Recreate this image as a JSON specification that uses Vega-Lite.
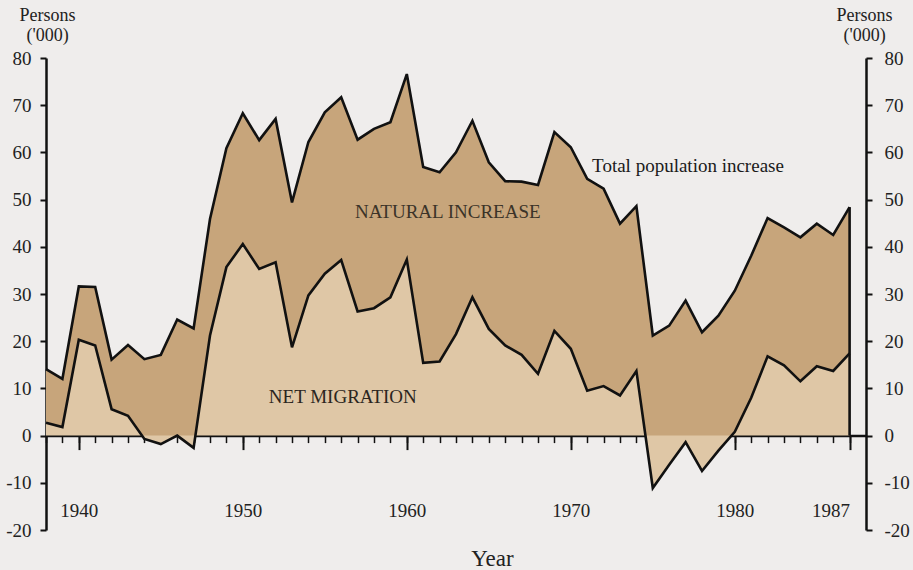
{
  "$schema": "https://vega.github.io/schema/vega-lite/v6.json",
  "width": 820,
  "height": 472,
  "autosize": {"type": "none"},
  "padding": {"left": 46, "top": 58, "right": 47, "bottom": 40},
  "background": "#efedec",
  "config": {
    "view": {"stroke": null},
    "font": "Liberation Serif",
    "axis": {"grid": false, "zindex": 1, "labelFont": "Liberation Serif", "titleFont": "Liberation Serif", "labelColor": "#222222", "titleColor": "#222222", "domainColor": "#111111", "tickColor": "#111111", "titleFontWeight": "normal"}
  },
  "data": {
    "values": [
      {"year": 1938, "total": 14.1, "migration": 2.7},
      {"year": 1939, "total": 12.0, "migration": 1.8},
      {"year": 1940, "total": 31.6, "migration": 20.3},
      {"year": 1941, "total": 31.5, "migration": 19.1},
      {"year": 1942, "total": 16.1, "migration": 5.6},
      {"year": 1943, "total": 19.2, "migration": 4.2},
      {"year": 1944, "total": 16.2, "migration": -0.7},
      {"year": 1945, "total": 17.1, "migration": -1.8},
      {"year": 1946, "total": 24.6, "migration": 0.0},
      {"year": 1947, "total": 22.7, "migration": -2.6},
      {"year": 1948, "total": 45.9, "migration": 21.2},
      {"year": 1949, "total": 60.9, "migration": 35.7},
      {"year": 1950, "total": 68.3, "migration": 40.6},
      {"year": 1951, "total": 62.6, "migration": 35.3},
      {"year": 1952, "total": 67.1, "migration": 36.7},
      {"year": 1953, "total": 49.4, "migration": 18.7},
      {"year": 1954, "total": 62.2, "migration": 29.7},
      {"year": 1955, "total": 68.5, "migration": 34.3},
      {"year": 1956, "total": 71.7, "migration": 37.2},
      {"year": 1957, "total": 62.7, "migration": 26.3},
      {"year": 1958, "total": 65.0, "migration": 27.0},
      {"year": 1959, "total": 66.4, "migration": 29.3},
      {"year": 1960, "total": 76.6, "migration": 37.3},
      {"year": 1961, "total": 56.9, "migration": 15.4},
      {"year": 1962, "total": 55.8, "migration": 15.7},
      {"year": 1963, "total": 60.0, "migration": 21.5},
      {"year": 1964, "total": 66.7, "migration": 29.3},
      {"year": 1965, "total": 57.9, "migration": 22.6},
      {"year": 1966, "total": 53.9, "migration": 19.1},
      {"year": 1967, "total": 53.8, "migration": 17.1},
      {"year": 1968, "total": 53.1, "migration": 13.1},
      {"year": 1969, "total": 64.3, "migration": 22.2},
      {"year": 1970, "total": 61.1, "migration": 18.4},
      {"year": 1971, "total": 54.4, "migration": 9.5},
      {"year": 1972, "total": 52.3, "migration": 10.5},
      {"year": 1973, "total": 44.9, "migration": 8.5},
      {"year": 1974, "total": 48.6, "migration": 13.7},
      {"year": 1975, "total": 21.2, "migration": -11.1},
      {"year": 1976, "total": 23.3, "migration": -6.2},
      {"year": 1977, "total": 28.6, "migration": -1.4},
      {"year": 1978, "total": 21.9, "migration": -7.5},
      {"year": 1979, "total": 25.4, "migration": -3.2},
      {"year": 1980, "total": 30.7, "migration": 0.8},
      {"year": 1981, "total": 38.1, "migration": 8.0},
      {"year": 1982, "total": 46.1, "migration": 16.8},
      {"year": 1983, "total": 44.1, "migration": 14.9},
      {"year": 1984, "total": 42.0, "migration": 11.5},
      {"year": 1985, "total": 44.9, "migration": 14.7},
      {"year": 1986, "total": 42.5, "migration": 13.7},
      {"year": 1987, "total": 48.4, "migration": 17.4}
    ]
  },
  "layer": [
    {
      "mark": {"type": "area", "color": "#c7a57b", "opacity": 1},
      "encoding": {
        "x": {
          "field": "year", "type": "quantitative",
          "scale": {"domain": [1938, 1988], "nice": false, "zero": false},
          "axis": {
            "orient": "bottom", "offset": -94.4, "values": [1938,1939,1940,1941,1942,1943,1944,1945,1946,1947,1948,1949,1950,1951,1952,1953,1954,1955,1956,1957,1958,1959,1960,1961,1962,1963,1964,1965,1966,1967,1968,1969,1970,1971,1972,1973,1974,1975,1976,1977,1978,1979,1980,1981,1982,1983,1984,1985,1986,1987],
            "labels": false, "title": null, "tickSize": 7, "tickWidth": 1.5, "domain": true, "domainWidth": 2.5
          }
        },
        "y": {
          "field": "total", "type": "quantitative",
          "scale": {"domain": [-20, 80], "nice": false, "zero": false},
          "axis": {
            "orient": "left", "values": [-20,-10,0,10,20,30,40,50,60,70,80],
            "labelExpr": "toString(datum.value)",
            "tickSize": 6, "tickWidth": 2, "domainWidth": 2.5, "labelPadding": 9, "labelFontSize": 19,
            "title": ["Persons", "('000)"], "titleAngle": 0, "titleAlign": "center", "titleBaseline": "middle",
            "titleX": 1, "titleY": -43, "titleLineHeight": 20, "titleFontSize": 18
          }
        },
        "y2": {"field": "migration"}
      }
    },
    {
      "mark": {"type": "area", "color": "#dfc7a6", "opacity": 1},
      "encoding": {
        "x": {
          "field": "year", "type": "quantitative",
          "axis": {
            "orient": "bottom", "offset": -94.4, "values": [1940, 1950, 1960, 1970, 1980, 1987],
            "format": "d", "domain": false, "tickSize": 14, "tickWidth": 2, "labelPadding": 52, "labelFontSize": 19,
            "labelAlign": {"condition": {"test": "datum.value == 1987", "value": "right"}, "value": "center"},
            "title": "Year", "titleFontSize": 23, "titleX": 446, "titleY": 130, "titleBaseline": "alphabetic", "titleAlign": "center"
          }
        },
        "y": {
          "field": "migration", "type": "quantitative",
          "axis": {
            "orient": "right", "values": [-20,-10,0,10,20,30,40,50,60,70,80],
            "labelExpr": "toString(datum.value)",
            "tickSize": 6, "tickWidth": 2, "domainWidth": 2.5, "labelPadding": 12, "labelFontSize": 19,
            "title": ["Persons", "('000)"], "titleAngle": 0, "titleAlign": "center", "titleBaseline": "middle",
            "titleX": -2, "titleY": -43, "titleLineHeight": 20, "titleFontSize": 18
          }
        },
        "y2": {"datum": 0}
      }
    },
    {
      "mark": {"type": "line", "color": "#111111", "strokeWidth": 2.6, "strokeJoin": "miter"},
      "encoding": {
        "x": {"field": "year", "type": "quantitative", "axis": null},
        "y": {"field": "total", "type": "quantitative", "axis": null}
      }
    },
    {
      "mark": {"type": "line", "color": "#111111", "strokeWidth": 2.6, "strokeJoin": "miter"},
      "encoding": {
        "x": {"field": "year", "type": "quantitative", "axis": null},
        "y": {"field": "migration", "type": "quantitative", "axis": null}
      }
    },
    {
      "transform": [{"filter": "datum.year == 1987"}],
      "mark": {"type": "rule", "color": "#111111", "strokeWidth": 2.6},
      "encoding": {
        "x": {"field": "year", "type": "quantitative", "axis": null},
        "y": {"field": "total", "type": "quantitative", "axis": null},
        "y2": {"datum": 0}
      }
    },
    {
      "data": {"values": [{"label": "NATURAL INCREASE"}]},
      "mark": {"type": "text", "font": "Liberation Serif", "fontSize": 19, "color": "#3b3328", "align": "center", "baseline": "middle"},
      "encoding": {
        "x": {"datum": 1962.5, "type": "quantitative", "axis": null},
        "y": {"datum": 47.4, "type": "quantitative", "axis": null},
        "text": {"field": "label"}
      }
    },
    {
      "data": {"values": [{"label": "NET MIGRATION"}]},
      "mark": {"type": "text", "font": "Liberation Serif", "fontSize": 19, "color": "#2b2520", "align": "center", "baseline": "middle"},
      "encoding": {
        "x": {"datum": 1956.1, "type": "quantitative", "axis": null},
        "y": {"datum": 8.2, "type": "quantitative", "axis": null},
        "text": {"field": "label"}
      }
    },
    {
      "data": {"values": [{"label": "Total population increase"}]},
      "mark": {"type": "text", "font": "Liberation Serif", "fontSize": 19, "color": "#1a1a1a", "align": "left", "baseline": "middle"},
      "encoding": {
        "x": {"datum": 1971.3, "type": "quantitative", "axis": null},
        "y": {"datum": 57.1, "type": "quantitative", "axis": null},
        "text": {"field": "label"}
      }
    }
  ],
  "resolve": {"axis": {"x": "independent", "y": "independent"}}
}
